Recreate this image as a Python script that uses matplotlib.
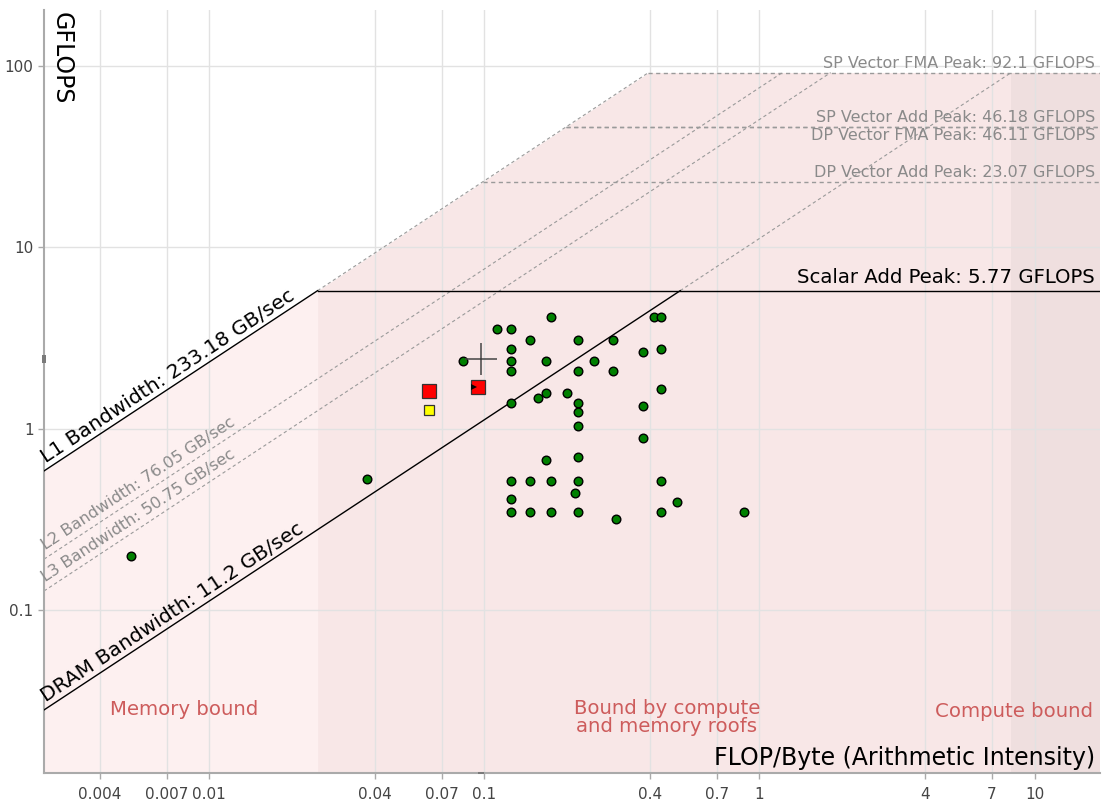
import numpy as np
import matplotlib
matplotlib.use('Agg')
import matplotlib.pyplot as plt
from matplotlib import transforms as mtrans

# ---------------- data ----------------
x_ticks = [0.004, 0.007, 0.01, 0.04, 0.07, 0.1, 0.4, 0.7, 1, 4, 7, 10]
x_tick_labels = ['0.004', '0.007', '0.01', '0.04', '0.07', '0.1', '0.4', '0.7', '1', '4', '7', '10']
y_ticks = [0.1, 1, 10, 100]
y_tick_labels = ['0.1', '1', '10', '100']

bw_names = ['L1 Bandwidth', 'L2 Bandwidth', 'L3 Bandwidth', 'DRAM Bandwidth']
bw_values = [233.18, 76.05, 50.75, 11.2]

peak_names = ['SP Vector FMA Peak', 'SP Vector Add Peak', 'DP Vector FMA Peak',
              'DP Vector Add Peak', 'Scalar Add Peak']
peak_values = [92.1, 46.18, 46.11, 23.07, 5.77]

loop_ai = [0.00519, 0.0375, 0.0839, 0.1113, 0.1251, 0.1752, 0.1463, 0.1251, 0.1251, 0.1251,
           0.1669, 0.2197, 0.2938, 0.2512, 0.2197, 0.2938, 0.4142, 0.4390, 0.3767, 0.4390,
           0.4390, 0.1669, 0.1999, 0.1568, 0.1251, 0.2197, 0.2197, 0.2197, 0.3767, 0.3767,
           0.1669, 0.2197, 0.1251, 0.1463, 0.1752, 0.2197, 0.4390, 0.2143, 0.1251, 0.503,
           0.1251, 0.1463, 0.1752, 0.2197, 0.302, 0.4390, 0.8799]
loop_gflops = [0.1976, 0.529, 2.36, 3.53, 3.53, 4.11, 3.08, 2.75, 2.36, 2.07,
               2.36, 3.08, 3.08, 2.36, 2.07, 2.07, 4.14, 4.14, 2.65, 2.75,
               1.65, 1.57, 1.57, 1.47, 1.38, 1.38, 1.235, 1.03, 1.33, 0.888,
               0.674, 0.695, 0.517, 0.517, 0.517, 0.517, 0.517, 0.4396, 0.4106, 0.395,
               0.3455, 0.3455, 0.3455, 0.3455, 0.317, 0.3455, 0.3455]

red_ai = [0.0627, 0.0949]
red_gflops = [1.61, 1.696]
yellow_ai = [0.0627]
yellow_gflops = [1.266]
cursor_ai = 0.0973
cursor_gflops = 2.43

region_labels = ['Memory bound', 'Bound by compute\nand memory roofs', 'Compute bound']

x_lim = (0.002506, 17.3)
y_lim = (0.0126, 204.0)

# ---------------- figure ----------------
fig = plt.figure(figsize=(11.05, 8.02), dpi=100)
ax = fig.add_axes([44 / 1105, (802 - 773) / 802, (1100 - 44) / 1105, (773 - 10) / 802])
ax.set_xscale('log')
ax.set_yscale('log')
ax.set_xlim(*x_lim)
ax.set_ylim(*y_lim)

# shaded regions under the roof
max_bw = bw_values[0]
max_peak = peak_values[0]
scalar_peak = peak_values[-1]
ridge_left = scalar_peak / max_bw
ridge_right = max_peak / bw_values[-1]
region_colors = ['#fdf0f0', '#f8e7e7', '#efdfdf']
bounds = [x_lim[0], ridge_left, ridge_right, x_lim[1]]
for i in range(3):
    xs = np.logspace(np.log10(bounds[i]), np.log10(bounds[i + 1]), 300)
    knee = max_peak / max_bw
    if bounds[i] < knee < bounds[i + 1]:
        xs = np.union1d(xs, [knee])
    roof = np.minimum(max_bw * xs, max_peak)
    ax.fill_between(xs, y_lim[0], roof, color=region_colors[i], lw=0, zorder=0.1)

gray = '#9a9a9a'
dash = (0, (3, 2.5))

# bandwidth roofs
for name, bw in zip(bw_names, bw_values):
    x_end = max_peak / bw
    if name.startswith('L1') or name.startswith('DRAM'):
        x_mid = scalar_peak / bw
        ax.plot([x_lim[0], x_mid], [bw * x_lim[0], bw * x_mid], color='black', lw=1.0, zorder=3)
        ax.plot([x_mid, x_end], [bw * x_mid, bw * x_end], color=gray, lw=0.8, ls=dash, zorder=2)
    else:
        ax.plot([x_lim[0], x_end], [bw * x_lim[0], bw * x_end], color=gray, lw=0.8, ls=dash, zorder=2)

# compute roofs
for name, pk in zip(peak_names, peak_values):
    x_start = pk / max_bw
    if name.startswith('Scalar'):
        ax.plot([x_start, x_lim[1]], [pk, pk], color='black', lw=1.0, zorder=3)
    else:
        ax.plot([x_start, x_lim[1]], [pk, pk], color=gray, lw=1.0, ls=dash, zorder=2)

# roof labels
fig.canvas.draw()
p0 = ax.transData.transform((1.0, 1.0))
p1 = ax.transData.transform((10.0, 10.0))
angle = np.degrees(np.arctan2(p1[1] - p0[1], p1[0] - p0[0]))
rad = np.radians(angle)

for name, bw in zip(bw_names, bw_values):
    major = name.startswith('L1') or name.startswith('DRAM')
    perp = 5.5 if major else 6.5
    along = 3
    dx = along * np.cos(rad) - perp * np.sin(rad)
    dy = along * np.sin(rad) + perp * np.cos(rad)
    xx = x_lim[0] * 1.02
    ax.annotate(f'{name}: {bw:g} GB/sec', xy=(xx, bw * xx), xytext=(dx, dy),
                textcoords='offset pixels', rotation=angle, rotation_mode='anchor',
                ha='left', va='baseline', fontsize=14.6 if major else 11.6,
                color='black' if major else '#8a8a8a', zorder=4)

peak_offsets = {'SP Vector FMA Peak': (2, 'bottom'), 'SP Vector Add Peak': (2, 'bottom'),
                'DP Vector FMA Peak': (-1, 'top'), 'DP Vector Add Peak': (2, 'bottom'),
                'Scalar Add Peak': (4, 'bottom')}
for name, pk in zip(peak_names, peak_values):
    dy, va = peak_offsets[name]
    major = name.startswith('Scalar')
    ax.annotate(f'{name}: {pk:g} GFLOPS', xy=(1.0, pk), xycoords=('axes fraction', 'data'),
                xytext=(-5, dy), textcoords='offset pixels', ha='right', va=va,
                fontsize=14.2 if major else 11.5, color='black' if major else '#8a8a8a', zorder=4)

# region labels
red_txt = '#cd5c5c'
ax.text(np.sqrt(bounds[0] * bounds[1]) * 1.03, 0.0826, region_labels[0],
        transform=ax.get_xaxis_transform(), ha='center', va='center', fontsize=14.2, color=red_txt)
ax.text(np.sqrt(bounds[1] * bounds[2]) * 1.02, 0.073, region_labels[1],
        transform=ax.get_xaxis_transform(), ha='center', va='center', fontsize=14.2,
        color=red_txt, linespacing=0.95)
ax.annotate(region_labels[2], xy=(1.0, 0.08), xycoords='axes fraction', xytext=(-7, 0),
            textcoords='offset pixels', ha='right', va='center', fontsize=14.2, color=red_txt)

# axis titles inside the plot
ax.annotate('FLOP/Byte (Arithmetic Intensity)', xy=(1.0, 0.0197), xycoords='axes fraction',
            xytext=(-5, 0), textcoords='offset pixels', ha='right', va='center', fontsize=17,
            color='black')
ax.annotate('GFLOPS', xy=(0.0, 1.0), xycoords='axes fraction', xytext=(18, -2),
            textcoords='offset pixels', ha='center', va='top', rotation=-90, fontsize=17,
            color='black')

# data points
ax.plot(loop_ai, loop_gflops, ls='none', marker='o', ms=6.2, mfc='#008000', mec='black',
        mew=1.0, zorder=5)
ax.plot(yellow_ai, yellow_gflops, ls='none', marker='s', ms=6.8, mfc='#ffff00', mec='#333333',
        mew=0.9, zorder=6)
ax.plot(red_ai, red_gflops, ls='none', marker='s', ms=9.5, mfc='#ff0000', mec='#333333',
        mew=0.9, zorder=6)
ax.plot([red_ai[1]], [red_gflops[1]], ls='none', marker='>', ms=5, color='black',
        markeredgewidth=0, zorder=7,
        transform=ax.transData + mtrans.ScaledTranslation(-4 / 100, 0, fig.dpi_scale_trans))

# cursor crosshair and axis markers
ax.plot([cursor_ai], [cursor_gflops], ls='none', marker='+', ms=23, mew=1.1, color='#444444', zorder=7)
ax.plot([cursor_ai], [0.0], ls='none', marker=[(-1, -0.5), (1, -0.5), (1, 0.5), (-1, 0.5)],
        ms=4.3, color='#7a7a7a', transform=ax.get_xaxis_transform(), clip_on=False, zorder=8,
        markeredgewidth=0)
ax.plot([0.0], [cursor_gflops], ls='none', marker=[(-0.5, -1), (0.5, -1), (0.5, 1), (-0.5, 1)],
        ms=5.8, color='#7a7a7a', transform=ax.get_yaxis_transform(), clip_on=False, zorder=8,
        markeredgewidth=0)

# axes styling
ax.set_xticks(x_ticks)
ax.set_xticklabels(x_tick_labels)
ax.set_yticks(y_ticks)
ax.set_yticklabels(y_tick_labels)
ax.minorticks_off()
ax.tick_params(axis='both', which='major', labelsize=11, colors='#444444', length=4,
               width=1, direction='out')
ax.tick_params(axis='x', pad=6)
for lbl in ax.get_xticklabels() + ax.get_yticklabels():
    lbl.set_color('#444444')
ax.grid(True, which='major', color='#e2e2e2', lw=1.0)
ax.set_axisbelow(True)
for side in ['top', 'right']:
    ax.spines[side].set_visible(False)
for side in ['left', 'bottom']:
    ax.spines[side].set_color('#aaaaaa')
    ax.spines[side].set_linewidth(1.5)
ax.tick_params(axis='both', color='#aaaaaa')
ax.set_facecolor('white')

fig.savefig('out.png', dpi=100, facecolor='white')
